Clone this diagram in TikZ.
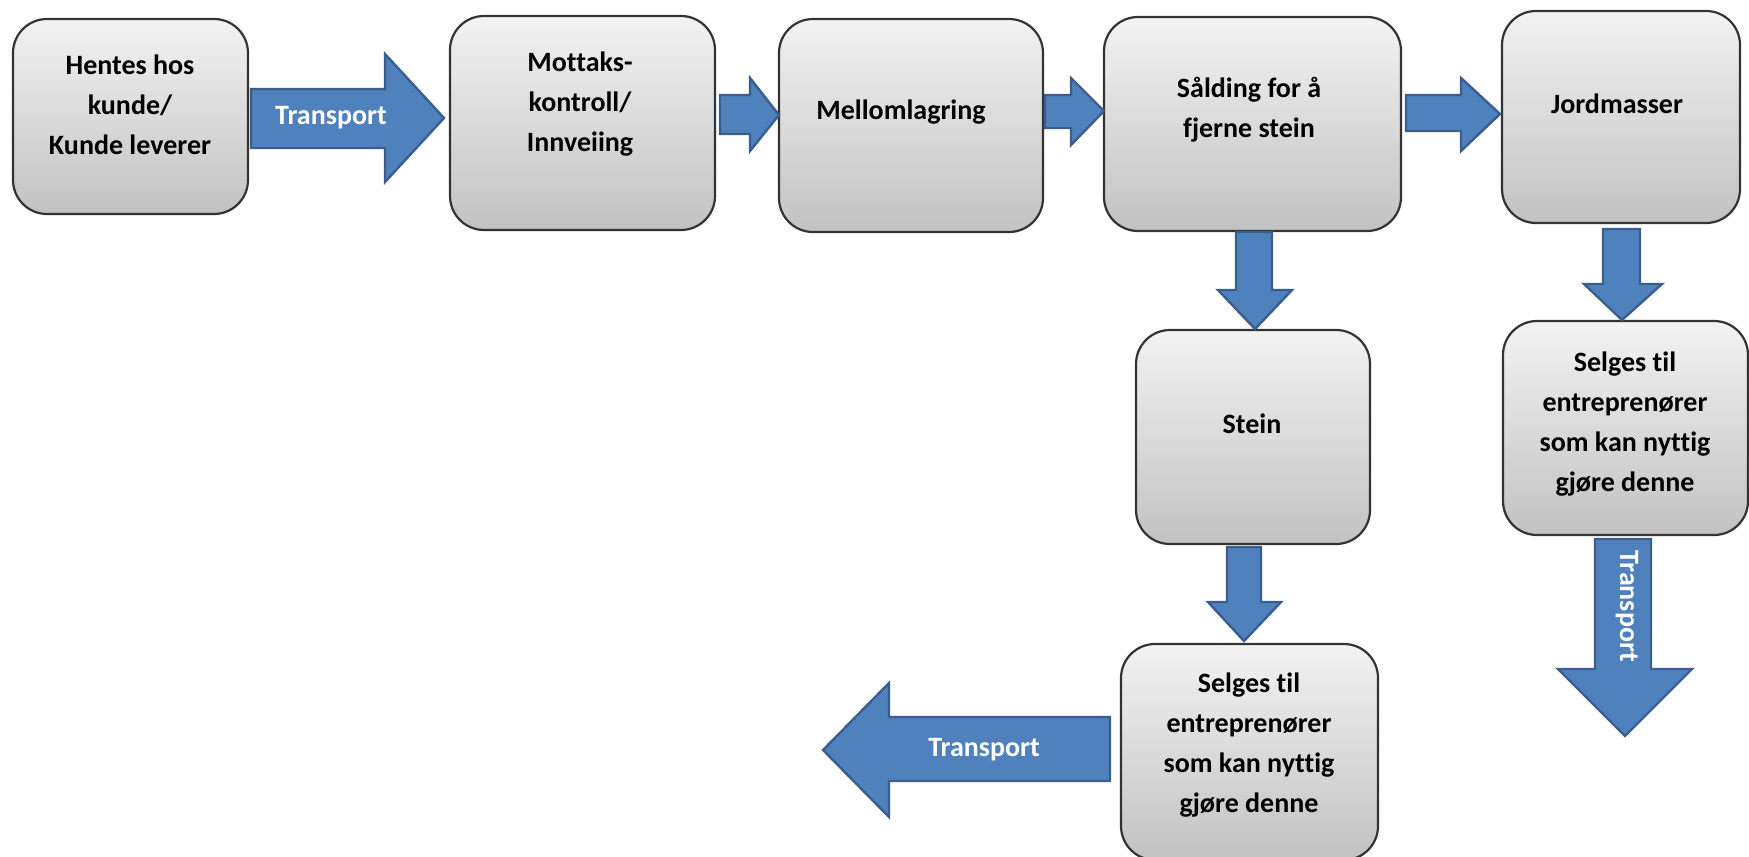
\documentclass[tikz,border=0pt]{standalone}
\usepackage{fontspec}
\setmainfont{Carlito}[Ligatures=NoCommon]
\definecolor{arrowfill}{HTML}{4F81BD}
\definecolor{arrowdraw}{HTML}{3A5F8F}
\begin{document}
\begin{tikzpicture}[x=0.5pt,y=-0.5pt,
  box/.style={draw=black!80, line width=1.1pt, rounded corners=17pt, top color=gray!10, bottom color=gray!48, inner sep=0pt},
  lbl/.style={font=\bfseries\fontsize{14}{20}\selectfont, align=center, text=black, inner sep=0pt},
  tlbl/.style={lbl, text=white},
  barrow/.style={fill=arrowfill, draw=arrowdraw, line width=1.2pt, line join=miter}]
\useasboundingbox (0,0) rectangle (1749,856);
% boxes
\node[box, minimum width=117.5pt, minimum height=97.5pt] (b1) at (130.5,116.5) {};
\node[box, minimum width=132.5pt, minimum height=107pt] (b2) at (582.5,123) {};
\node[box, minimum width=132pt, minimum height=106.5pt] (b3) at (911,125.5) {};
\node[box, minimum width=148.5pt, minimum height=107pt] (b4) at (1252.5,124) {};
\node[box, minimum width=119pt, minimum height=106pt] (b5) at (1621,117) {};
\node[box, minimum width=117pt, minimum height=107pt] (b6) at (1253,437) {};
\node[box, minimum width=128.5pt, minimum height=108pt] (b7) at (1249.5,752) {};
\node[box, minimum width=122.5pt, minimum height=107pt] (b8) at (1625.5,428) {};
% labels
\node[lbl] (t1) at (130,104.5) {Hentes hos\\kunde/\\Kunde leverer};
\node[lbl] (t2) at (580,104.5) {Mottaks-\\kontroll/\\Innveiing};
\node[lbl] (t3) at (901,112) {Mellomlagring};
\node[lbl] (t4) at (1249,110) {Sålding for å\\fjerne stein};
\node[lbl] (t5) at (1617,104) {Jordmasser};
\node[lbl] (t6) at (1252,424) {Stein};
\node[lbl] (t7) at (1249,745.5) {Selges til\\entreprenører\\som kan nyttig\\gjøre denne};
\node[lbl] (t8) at (1625,424) {Selges til\\entreprenører\\som kan nyttig\\gjøre denne};
% block arrows
\draw[barrow] (251,89) -- (385,89) -- (385,54) -- (444,118) -- (385,182) -- (385,148) -- (251,148) -- cycle;
\draw[barrow] (720,95) -- (750,95) -- (750,78) -- (779,115) -- (750,151) -- (750,134) -- (720,134) -- cycle;
\draw[barrow] (1045,95) -- (1071,95) -- (1071,78) -- (1104,111) -- (1071,145) -- (1071,128) -- (1045,128) -- cycle;
\draw[barrow] (1406,95) -- (1461,95) -- (1461,78) -- (1500,114) -- (1461,151) -- (1461,131) -- (1406,131) -- cycle;
\draw[barrow] (1236,232) -- (1236,290) -- (1218,290) -- (1255,329) -- (1292,290) -- (1272,290) -- (1272,232) -- cycle;
\draw[barrow] (1227,547) -- (1227,602) -- (1208,602) -- (1244,641) -- (1281,602) -- (1261,602) -- (1261,547) -- cycle;
\draw[barrow] (1603,229) -- (1603,284) -- (1584,284) -- (1622,320) -- (1662,284) -- (1640,284) -- (1640,229) -- cycle;
\draw[barrow] (1595,539) -- (1595,669) -- (1558,669) -- (1625,736) -- (1692,669) -- (1651,669) -- (1651,539) -- cycle;
\draw[barrow] (1110,717) -- (889,717) -- (889,683) -- (823,750) -- (889,817) -- (889,781) -- (1110,781) -- cycle;
% arrow labels
\node[tlbl] (a1) at (331,118) {Transport};
\node[tlbl] (a2) at (984,750) {Transport};
\node[tlbl, rotate=-90] (a3) at (1627,606) {Transport};
\end{tikzpicture}
\end{document}
